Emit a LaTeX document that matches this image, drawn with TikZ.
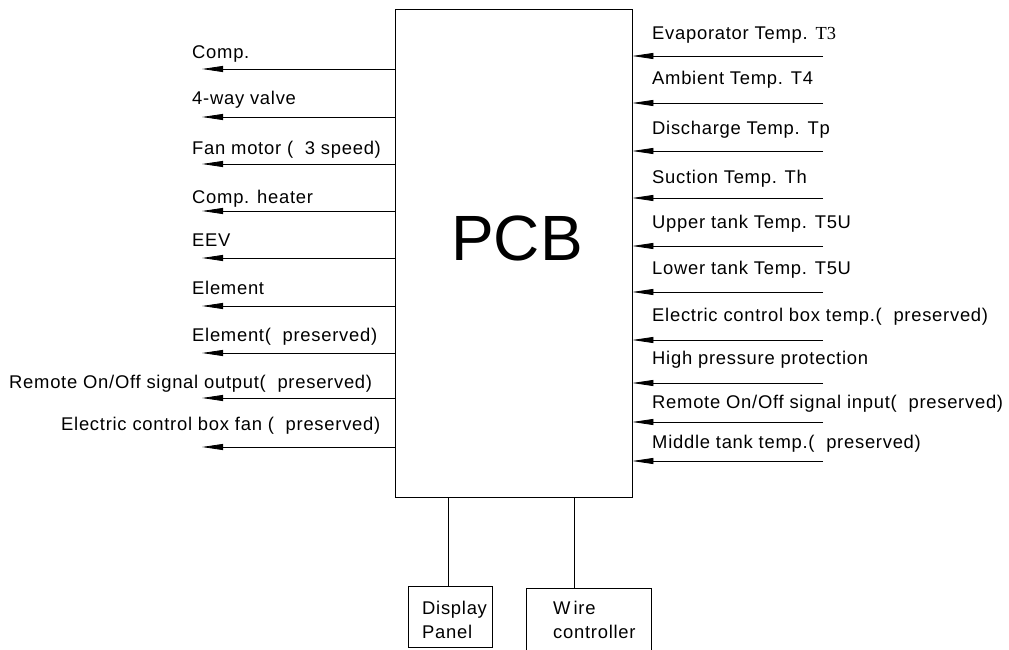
\documentclass[tikz,border=0pt]{standalone}
\usepackage{fontspec}
\setmainfont{Liberation Sans}[LetterSpace=4]
\newfontfamily\serifT{Liberation Serif}
\usetikzlibrary{arrows.meta}
\tikzset{
  lbl/.style={anchor=base west, inner sep=0pt, font=\fontsize{18.4}{24}\selectfont},
  arr/.style={line width=0.8pt, -{Triangle[length=21pt,width=6pt]}},
  boxln/.style={draw, line width=0.8pt},
}
\begin{document}
\begin{tikzpicture}[x=1pt,y=-1pt]
\useasboundingbox (0,0) rectangle (1009,650);
% PCB
\node[boxln, minimum width=237pt, minimum height=488pt, inner sep=0pt] (pcb) at (513.5,253) {};
\node[inner sep=0pt, font=\fontsize{64}{64}\selectfont\addfontfeatures{LetterSpace=0}] (pcbt) at (517,238) {PCB};
% left outputs
\foreach \n/\ly/\ay/\lx/\t in {
 L1/58.5/69/192/{Comp.},
 L2/104.5/117/192/{4-way valve},
 L3/154.5/164/192/{Fan motor (~~3 speed)},
 L4/203.5/211/192/{Comp. heater},
 L5/246.5/258/192/{EEV},
 L6/294.5/306/192/{Element},
 L7/341.5/353/192/{Element(~~preserved)},
 L8/388.5/398/9/{Remote On/Off signal output(~~preserved)},
 L9/430.5/447/61/{Electric control box fan (~~preserved)}}{
  \node[lbl] (t\n) at (\lx,\ly) {\t};
  \coordinate (\n) at (202,\ay);
  \draw[arr] (pcb.west |- \n) -- (\n);
}
% right inputs
\foreach \n/\ly/\ay/\t in {
 R1/39.5/56/{Evaporator Temp. {\serifT T3}},
 R2/84.5/103/{Ambient Temp. T4},
 R3/134.5/151/{Discharge Temp. Tp},
 R4/183.5/198/{Suction Temp. Th},
 R5/228.5/246/{Upper tank Temp. T5U},
 R6/274.5/292/{Lower tank Temp. T5U},
 R7/321.5/340/{Electric control box temp.(~~preserved)},
 R8/364.5/383/{High pressure protection},
 R9/408.5/422/{Remote On/Off signal input(~~preserved)},
 R10/448.5/461/{Middle tank temp.(~~preserved)}}{
  \node[lbl] (t\n) at (652,\ly) {\t};
  \coordinate (\n) at (823,\ay);
  \draw[arr] (\n) -- (pcb.east |- \n);
}
% bottom boxes
\node[boxln, minimum width=84pt, minimum height=61pt, inner sep=0pt] (dp) at (450,616.5) {};
\node[lbl] (dpt1) at (422,614.5) {Display};
\node[lbl] (dpt2) at (422,638.5) {Panel};
\node[boxln, minimum width=125pt, minimum height=68pt, inner sep=0pt] (wc) at (588.5,622) {};
\node[lbl] (wct1) at (553,614.5) {W\kern3pt ire};
\node[lbl] (wct2) at (553,638.5) {controller};
\coordinate (d1) at (448,0);
\coordinate (w1) at (574,0);
\draw[line width=0.8pt] (pcb.south -| d1) -- (dp.north -| d1);
\draw[line width=0.8pt] (pcb.south -| w1) -- (wc.north -| w1);
\end{tikzpicture}
\end{document}
